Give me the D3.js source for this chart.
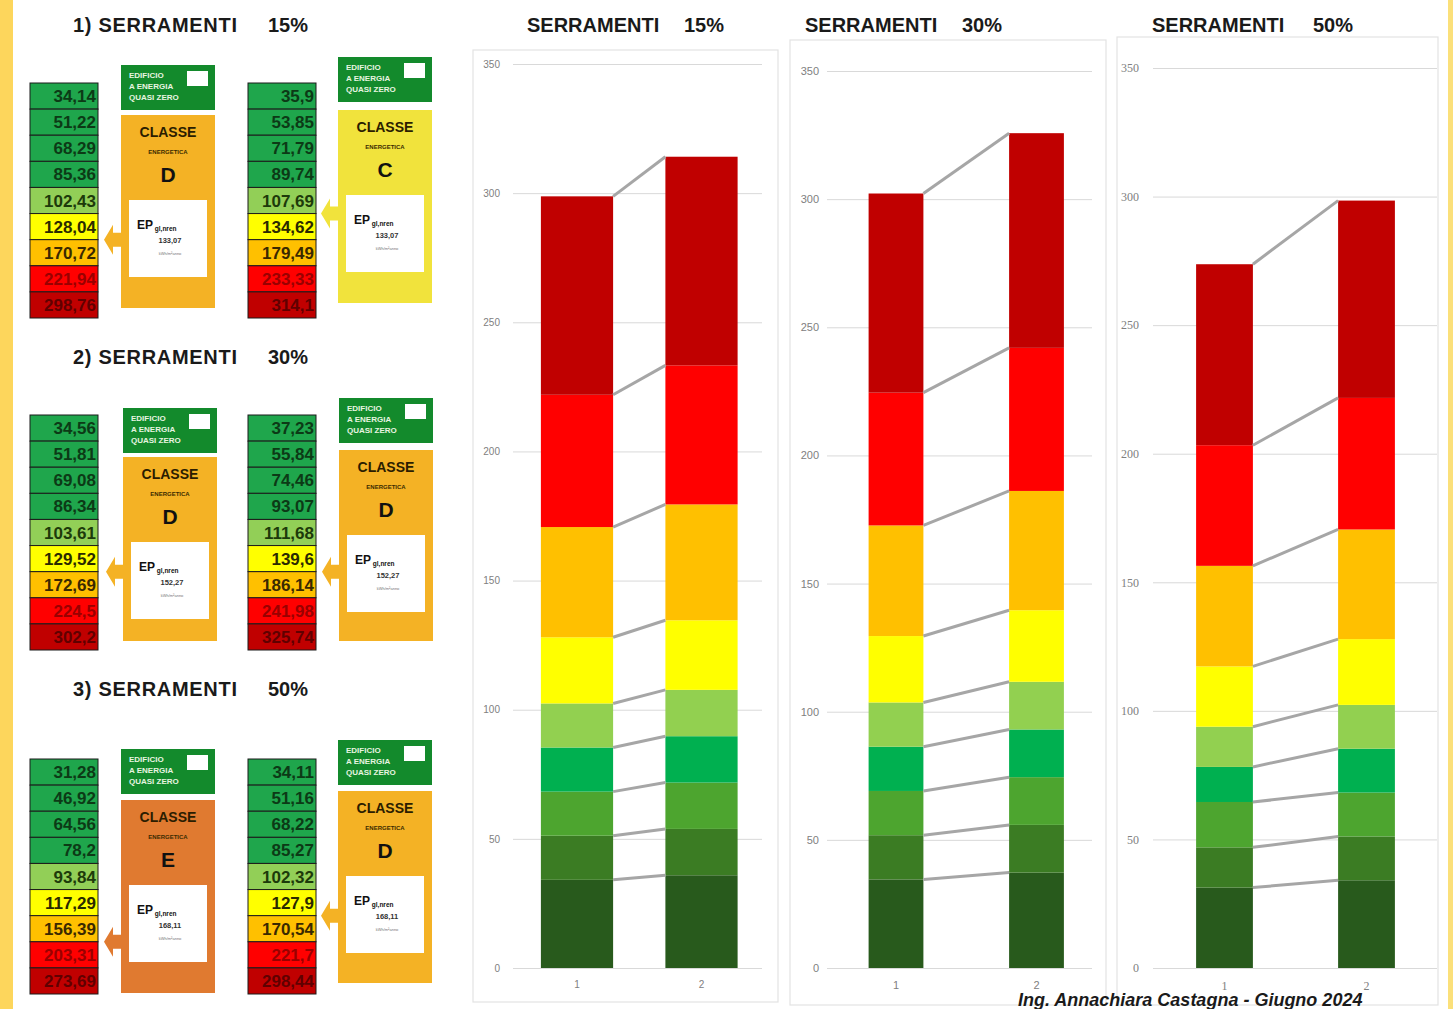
<html>
<head>
<meta charset="utf-8">
<script src="https://cdnjs.cloudflare.com/ajax/libs/d3/7.8.5/d3.min.js"></script>
<style>
  body { margin: 0; background: #fff; }
  svg { display: block; font-family: "Liberation Sans", Arial, sans-serif; }
</style>
</head>
<body>
<svg id="chart" width="1453" height="1009"></svg>
<script>
// classi energetiche, dalla piu bassa (A4) alla piu alta (G)
const classi = ["A4", "A3", "A2", "A1", "B", "C", "D", "E", "F", "G"];
const percentuali = ["15%", "30%", "50%"];
const categorie = ["1", "2"];
const yTicks = [0, 50, 100, 150, 200, 250, 300, 350];

// limiti superiori delle classi (edificio 1 e edificio 2)
const limiti15_1 = [34.14, 51.22, 68.29, 85.36, 102.43, 128.04, 170.72, 221.94, 298.76];
const limiti15_2 = [35.9, 53.85, 71.79, 89.74, 107.69, 134.62, 179.49, 233.33, 314.1];
const limiti30_1 = [34.56, 51.81, 69.08, 86.34, 103.61, 129.52, 172.69, 224.5, 302.2];
const limiti30_2 = [37.23, 55.84, 74.46, 93.07, 111.68, 139.6, 186.14, 241.98, 325.74];
const limiti50_1 = [31.28, 46.92, 64.56, 78.2, 93.84, 117.29, 156.39, 203.31, 273.69];
const limiti50_2 = [34.11, 51.16, 68.22, 85.27, 102.32, 127.9, 170.54, 221.7, 298.44];

// EP gl,nren per ogni scenario
const epValori = [133.07, 152.27, 168.11];

const serie = [[limiti15_1, limiti15_2], [limiti30_1, limiti30_2], [limiti50_1, limiti50_2]];

// colori
const barColors = ["#285a1c", "#3b7c23", "#4da52f", "#00b050", "#92d050", "#ffff00", "#ffc000", "#ff0000", "#c00000"];
const rowFills = ["#1fa64c", "#1fa64c", "#1fa64c", "#1fa64c", "#92cf57", "#ffff00", "#ffc000", "#ff0000", "#c00000"];
const rowText = ["#0c3a16", "#0c3a16", "#0c3a16", "#0c3a16", "#1d3a0a", "#2a2a00", "#3a2900", "#9a0000", "#600000"];
const boxFills = { C: "#f1e33c", D: "#f4b225", E: "#e07a30" };

const fmt = v => String(v).replace(".", ",");
const svg = d3.select("#chart");

// cornice gialla
svg.append("rect").attr("x", 0).attr("y", 0).attr("width", 13).attr("height", 1009).attr("fill", "#fdd65c");
svg.append("rect").attr("x", 1448).attr("y", 0).attr("width", 5).attr("height", 1009).attr("fill", "#fbe07a");

// ---------- parte sinistra: tabelle e targhette ----------
const sections = [
  { titleY: 25, tableY: 83,
    boxes: [{ x: 121, gy: 65, my: 115, mh: 193 }, { x: 338, gy: 57, my: 110, mh: 193 }] },
  { titleY: 357, tableY: 415,
    boxes: [{ x: 123, gy: 408, my: 457, mh: 184 }, { x: 339, gy: 398, my: 450, mh: 191 }] },
  { titleY: 689, tableY: 759,
    boxes: [{ x: 121, gy: 749, my: 800, mh: 193 }, { x: 338, gy: 740, my: 791, mh: 192 }] }
];
const tableX = [30, 248];

const drawTable = (g, x, y, values) => {
  const rows = d3.scaleBand().domain(d3.range(values.length)).range([y, y + 235]);
  const row = g.selectAll(".row").data(values).join("g").attr("class", "row");
  row.append("rect")
     .attr("x", x).attr("y", (d, i) => rows(i))
     .attr("width", 68).attr("height", rows.bandwidth())
     .attr("fill", (d, i) => rowFills[i])
     .attr("stroke", "#1b1b1b").attr("stroke-width", 1);
  row.append("text")
     .text(d => fmt(d))
     .attr("x", x + 66).attr("y", (d, i) => rows(i) + rows.bandwidth() / 2 + 6)
     .attr("text-anchor", "end")
     .attr("font-size", 17).attr("font-weight", "bold")
     .attr("fill", (d, i) => rowText[i]);
  return rows;
};

const drawLabel = (g, b, ep, values, rows) => {
  const idx = values.findIndex(v => ep <= v);
  const lettera = classi[idx];
  const fill = boxFills[lettera];
  const w = 94;
  // intestazione verde
  g.append("rect").attr("x", b.x).attr("y", b.gy).attr("width", w).attr("height", 45).attr("fill", "#138a2c");
  ["EDIFICIO", "A ENERGIA", "QUASI ZERO"].forEach((t, i) => {
    g.append("text").text(t).attr("x", b.x + 8).attr("y", b.gy + 13 + i * 11)
     .attr("font-size", 8).attr("font-weight", "bold").attr("fill", "#e8f5e0");
  });
  g.append("rect").attr("x", b.x + 66).attr("y", b.gy + 6).attr("width", 21).attr("height", 15).attr("fill", "#fff");
  // corpo colorato
  g.append("rect").attr("x", b.x).attr("y", b.my).attr("width", w).attr("height", b.mh).attr("fill", fill);
  const cx = b.x + w / 2;
  g.append("text").text("CLASSE").attr("x", cx).attr("y", b.my + 22).attr("text-anchor", "middle")
   .attr("font-size", 14).attr("font-weight", "bold").attr("fill", "#2b1d00");
  g.append("text").text("ENERGETICA").attr("x", cx).attr("y", b.my + 39).attr("text-anchor", "middle")
   .attr("font-size", 6).attr("font-weight", "bold").attr("fill", "#3b2a00");
  g.append("text").text(lettera).attr("x", cx).attr("y", b.my + 67).attr("text-anchor", "middle")
   .attr("font-size", 21).attr("font-weight", "bold").attr("fill", "#111");
  // riquadro bianco EP
  g.append("rect").attr("x", b.x + 8).attr("y", b.my + 85).attr("width", w - 16).attr("height", 77).attr("fill", "#fff");
  const ept = g.append("text").attr("x", b.x + 16).attr("y", b.my + 114).attr("font-weight", "bold").attr("fill", "#111");
  ept.append("tspan").text("EP").attr("font-size", 12);
  ept.append("tspan").text(" gl,nren").attr("font-size", 6.5).attr("dy", 2);
  g.append("text").text(fmt(ep)).attr("x", cx + 2).attr("y", b.my + 128).attr("text-anchor", "middle")
   .attr("font-size", 7.5).attr("font-weight", "bold").attr("fill", "#333");
  g.append("text").text("kWh/m²anno").attr("x", cx + 2).attr("y", b.my + 140).attr("text-anchor", "middle")
   .attr("font-size", 4).attr("fill", "#777");
  // freccia verso la classe
  const ay = rows(idx);
  const x0 = b.x;
  g.append("path")
   .attr("d", `M${x0 - 17},${ay} L${x0 - 8},${ay - 15} L${x0 - 8},${ay - 7} L${x0},${ay - 7} L${x0},${ay + 7} L${x0 - 8},${ay + 7} L${x0 - 8},${ay + 15} Z`)
   .attr("fill", fill);
};

sections.forEach((s, si) => {
  const g = svg.append("g");
  g.append("text").text(`${si + 1}) SERRAMENTI`).attr("x", 73).attr("y", s.titleY + 7)
   .attr("font-size", 20).attr("font-weight", "bold").attr("letter-spacing", 0.7).attr("fill", "#1a1a1a");
  g.append("text").text(percentuali[si]).attr("x", 268).attr("y", s.titleY + 7)
   .attr("font-size", 20).attr("font-weight", "bold").attr("fill", "#1a1a1a");
  serie[si].forEach((vals, k) => {
    const tg = g.append("g");
    const rows = drawTable(tg, tableX[k], s.tableY, vals);
    drawLabel(g.append("g"), s.boxes[k], epValori[si], vals, rows);
  });
});

// ---------- grafici a barre impilate ----------
const chartLayout = [
  { frame: [473, 50, 305, 952], grid: [513, 762], band: [514.75, 763.75], pad: 0.42, yTop: 64, labelRight: 500,
    tx: 527, px: 684, font: "Liberation Sans", fs: 10 },
  { frame: [790, 40, 316, 965], grid: [827, 1092], band: [825.75, 1106.75], pad: 0.61, yTop: 71, labelRight: 819,
    tx: 805, px: 962, font: "Liberation Sans", fs: 11 },
  { frame: [1117, 37, 321, 968], grid: [1153, 1437], band: [1153.5, 1437.5], pad: 0.6, yTop: 68, labelRight: 1139,
    tx: 1152, px: 1313, font: "Liberation Serif", fs: 12 }
];
const yBase = 968;

chartLayout.forEach((L, ci) => {
  const g = svg.append("g");
  g.append("rect").attr("x", L.frame[0]).attr("y", L.frame[1]).attr("width", L.frame[2]).attr("height", L.frame[3])
   .attr("fill", "#fff").attr("stroke", "#e3e3e3").attr("stroke-width", 1.2);

  g.append("text").text("SERRAMENTI").attr("x", L.tx).attr("y", 32)
   .attr("font-size", 20).attr("font-weight", "bold").attr("fill", "#1a1a1a");
  g.append("text").text(percentuali[ci]).attr("x", L.px).attr("y", 32)
   .attr("font-size", 20).attr("font-weight", "bold").attr("fill", "#1a1a1a");

  const y = d3.scaleLinear().domain([0, 350]).range([yBase, L.yTop]);
  const x = d3.scaleBand().domain(categorie).range(L.band).paddingInner(L.pad).paddingOuter(L.pad / 2);

  const ax = g.append("g").attr("transform", `translate(${L.grid[0]},0)`)
    .call(d3.axisLeft(y).tickValues(yTicks).tickSize(-(L.grid[1] - L.grid[0])).tickPadding(L.grid[0] - L.labelRight));
  ax.select(".domain").remove();
  ax.selectAll(".tick line").attr("stroke", "#d9d9d9");
  ax.selectAll(".tick text").attr("fill", "#808080").attr("font-size", L.fs).attr("font-family", L.font);

  const bx = g.append("g").attr("transform", `translate(0,${yBase})`)
    .call(d3.axisBottom(x).tickSize(0).tickPadding(13));
  bx.select(".domain").remove();
  bx.selectAll(".tick text").attr("fill", "#808080").attr("font-size", L.fs).attr("font-family", L.font);

  const dati = serie[ci];
  categorie.forEach((cat, k) => {
    const vals = dati[k];
    g.selectAll(".seg" + k).data(vals).join("rect")
     .attr("x", x(cat)).attr("width", x.bandwidth())
     .attr("y", d => y(d))
     .attr("height", (d, i) => y(i ? vals[i - 1] : 0) - y(d))
     .attr("fill", (d, i) => barColors[i]);
  });

  // linee di serie
  g.selectAll(".serline").data(d3.range(dati[0].length)).join("line")
   .attr("x1", x(categorie[0]) + x.bandwidth()).attr("y1", i => y(dati[0][i]))
   .attr("x2", x(categorie[1])).attr("y2", i => y(dati[1][i]))
   .attr("stroke", "#a6a6a6").attr("stroke-width", 3);
});

svg.append("text").text("Ing. Annachiara Castagna - Giugno 2024")
   .attr("x", 1018).attr("y", 1006)
   .attr("font-size", 18).attr("font-weight", "bold").attr("font-style", "italic").attr("fill", "#1a1a1a");
</script>
</body>
</html>
